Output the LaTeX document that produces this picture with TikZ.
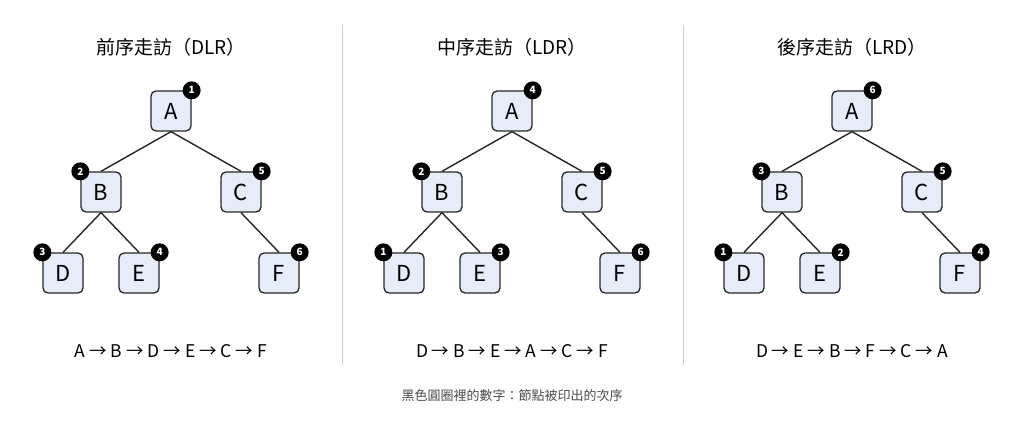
\documentclass[tikz,border=0pt]{standalone}
\usepackage{fontspec}
\setmainfont{Noto Sans CJK TC}
\definecolor{nfill}{RGB}{230,237,248}
\begin{document}
\begin{tikzpicture}[x=1pt,y=-1pt,
  nd/.style={draw=black!85,line width=1.3pt,fill=nfill,rounded corners=5pt,minimum width=40pt,minimum height=40pt,font=\fontsize{22}{22}\selectfont},
  bd/.style={circle,fill=black,text=white,inner sep=0pt,minimum size=18pt,font=\fontsize{10}{10}\selectfont\bfseries},
  ed/.style={line width=1.4pt,black!85},
  ttl/.style={font=\fontsize{19}{19}\selectfont},
  sq/.style={font=\fontsize{17.5}{17.5}\selectfont}]
\useasboundingbox (0,0) rectangle (1024,427);
\draw[black!20,line width=1pt] (342,25) -- (342,365);
\draw[black!20,line width=1pt] (683,25) -- (683,365);
\foreach \dx/\t/\na/\nb/\nc/\nd/\ne/\nf/\s/\p in {
  0/前序走訪（DLR）/1/2/5/3/4/6/{A → B → D → E → C → F}/p,
  341/中序走訪（LDR）/4/2/5/1/3/6/{D → B → E → A → C → F}/q,
  681/後序走訪（LRD）/6/3/5/1/2/4/{D → E → B → F → C → A}/r}{
  \begin{scope}[xshift=\dx]
  \node[ttl] (\p t) at (171,47) {\t};
  \node[nd] (\p A) at (171,111) {A};
  \node[nd] (\p B) at (101,192) {B};
  \node[nd] (\p C) at (241,192) {C};
  \node[nd] (\p D) at (63,273) {D};
  \node[nd] (\p E) at (139,273) {E};
  \node[nd] (\p F) at (279,273) {F};
  \draw[ed] (\p A.south) -- (\p B.north);
  \draw[ed] (\p A.south) -- (\p C.north);
  \draw[ed] (\p B.south) -- (\p D.north);
  \draw[ed] (\p B.south) -- (\p E.north);
  \draw[ed] (\p C.south) -- (\p F.north);
  \node[bd] (\p a) at (\p A.north east) {\na};
  \node[bd] (\p b) at (\p B.north west) {\nb};
  \node[bd] (\p c) at (\p C.north east) {\nc};
  \node[bd] (\p d) at (\p D.north west) {\nd};
  \node[bd] (\p e) at (\p E.north east) {\ne};
  \node[bd] (\p f) at (\p F.north east) {\nf};
  \node[sq] (\p s) at (171,351) {\s};
  \end{scope}}
\node[font=\fontsize{13}{13}\selectfont,text=black!70] (cap) at (512,396) {黑色圓圈裡的數字：節點被印出的次序};
\end{tikzpicture}
\end{document}
